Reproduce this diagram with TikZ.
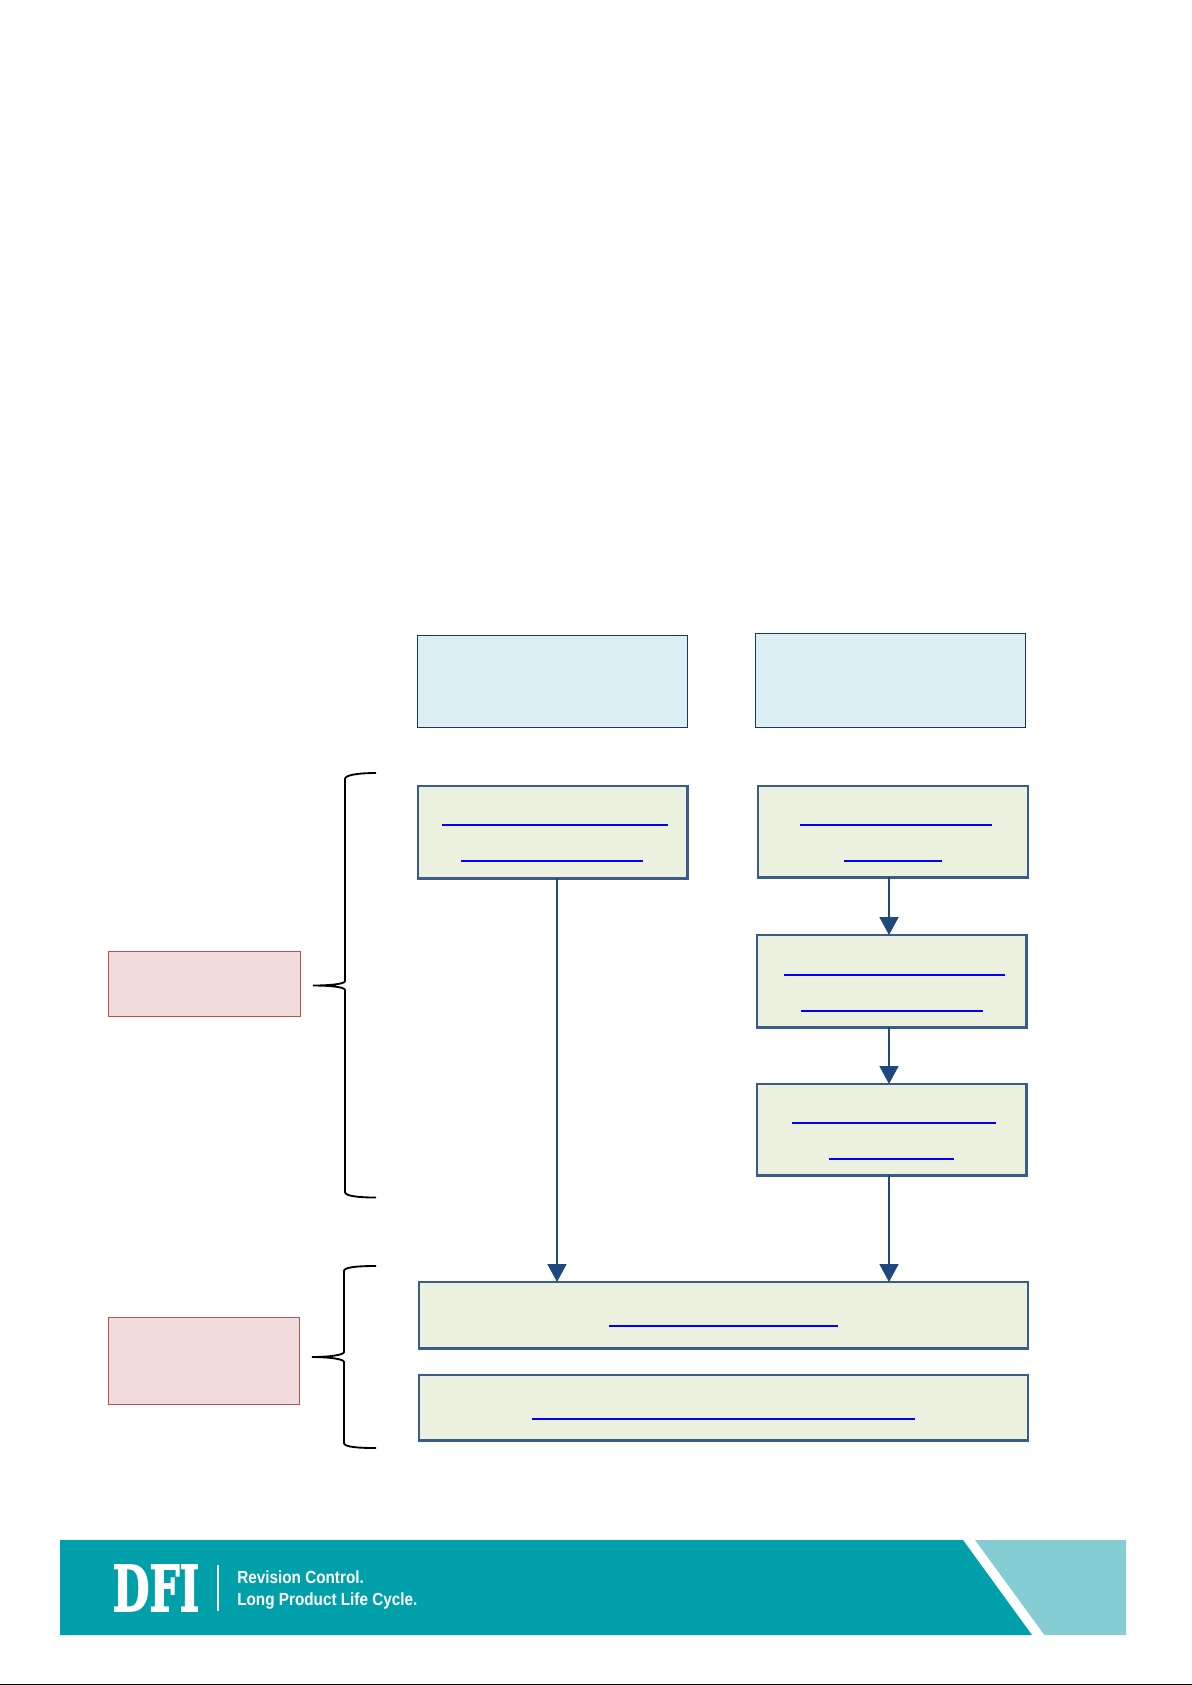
\documentclass[tikz,border=0pt]{standalone}
\usepackage{fontspec}
\usepackage{xcolor}
\usetikzlibrary{arrows.meta,positioning}
\setmainfont{Liberation Sans}
\newfontfamily\logofont[BoldFeatures={FakeBold=2.5}]{DejaVu Serif}
\definecolor{headfill}{HTML}{DBEEF4}
\definecolor{headline}{HTML}{17375E}
\definecolor{stepfill}{HTML}{EBF0DF}
\definecolor{stepline}{HTML}{385D8A}
\definecolor{notefill}{HTML}{F2DCDB}
\definecolor{noteline}{HTML}{C0504D}
\definecolor{flowline}{HTML}{1F497D}
\definecolor{barteal}{HTML}{00A0AA}
\definecolor{barlight}{HTML}{86CCD3}
\tikzset{
  box/.style={draw, inner sep=0pt, outer sep=0pt, anchor=north west},
  headbox/.style={box, draw=headline, fill=headfill, line width=0.5pt},
  stepbox/.style={box, draw=stepline, fill=stepfill, line width=1.25pt},
  notebox/.style={box, draw=noteline, fill=notefill, line width=0.55pt},
  flow/.style={draw=flowline, line width=1pt, -{Triangle[length=0.36cm,width=0.38cm]}},
  linkthin/.style={draw=blue, line width=0.65pt},
  linkthick/.style={draw=blue, line width=1.1pt},
  brace/.style={draw=black, line width=1.05pt},
}
\begin{document}
\begin{tikzpicture}[x=0.02cm, y=-0.02cm]
                \useasboundingbox (0,0) rectangle (1192,1685);
                % header boxes
                \node[headbox, minimum width=5.4cm, minimum height=1.84cm] (headL) at (417.5,635) {};
                \node[headbox, minimum width=5.4cm, minimum height=1.88cm] (headR) at (755.5,633) {};

                % left column
                \node[stepbox, minimum width=5.39cm, minimum height=1.85cm] (stepL) at (418,786) {};

                % right column
                \node[stepbox, minimum width=5.4cm, minimum height=1.83cm] (stepA) at (758,786) {};
                \node[stepbox, minimum width=5.39cm, minimum height=1.85cm] (stepB) at (757,935) {};
                \node[stepbox, minimum width=5.39cm, minimum height=1.83cm] (stepC) at (757,1084) {};

                % wide boxes
                \node[stepbox, minimum width=12.18cm, minimum height=1.33cm] (wideA) at (419,1282) {};
                \node[stepbox, minimum width=12.18cm, minimum height=1.31cm] (wideB) at (419,1375) {};

                % notes on the left
                \node[notebox, minimum width=3.86cm, minimum height=1.31cm] (noteA) at (108,951) {};
                \node[notebox, minimum width=3.83cm, minimum height=1.73cm] (noteB) at (108,1317.5) {};

                \coordinate (inL) at (557,1282);
                \coordinate (inR) at (889,1282);

                \draw[flow] (stepL.south -| inL) -- (inL);
                \draw[flow] (stepA.south -| inR) -- (stepB.north -| inR);
                \draw[flow] (stepB.south -| inR) -- (stepC.north -| inR);
                \draw[flow] (stepC.south -| inR) -- (inR);

                % underlines
                \draw[linkthin] (442,825) -- (668,825);
                \draw[linkthin] (461,861) -- (643,861);
                \draw[linkthick] (800,825) -- (992,825);
                \draw[linkthick] (844,861) -- (942,861);
                \draw[linkthick] (784,975) -- (1005,975);
                \draw[linkthick] (801,1011) -- (983,1011);
                \draw[linkthin] (792,1123) -- (996,1123);
                \draw[linkthin] (829,1159) -- (954,1159);
                \draw[linkthin] (609,1326) -- (838,1326);
                \draw[linkthick] (532,1419) -- (915,1419);

                % braces
                \draw[brace] (376,773) .. controls (358,773) and (345,775) .. (345,779)
                        -- (345,981) .. controls (345,984) and (330,985.5) .. (313,985.5)
                        .. controls (330,985.5) and (345,987) .. (345,990)
                        -- (345,1192) .. controls (345,1196) and (358,1197.5) .. (376,1197.5);
                \draw[brace] (376,1266) .. controls (358,1266) and (344,1267) .. (344,1271)
                        -- (344,1352) .. controls (344,1355) and (329,1357) .. (312,1357)
                        .. controls (329,1357) and (344,1359) .. (344,1362)
                        -- (344,1443) .. controls (344,1447) and (358,1448) .. (376,1448);

                % footer bar
                \fill[barteal] (60,1540) -- (963,1540) -- (1032,1635) -- (60,1635) -- cycle;
                \fill[barlight] (975,1540) -- (1126,1540) -- (1126,1635) -- (1044.5,1635) -- cycle;
                \node[text=white, inner sep=0pt, anchor=base west, font=\logofont\bfseries\fontsize{36}{36}\selectfont, xscale=0.67] (logo) at (112.5,1611) {DFI};
                \draw[white, line width=0.7pt] (218,1565) -- (218,1611);
                \node[text=white, inner sep=0pt, anchor=base west, font=\bfseries\fontsize{10}{12}\selectfont, xscale=0.87] (sloganA) at (237,1583) {Revision Control.};
                \node[text=white, inner sep=0pt, anchor=base west, font=\bfseries\fontsize{10}{12}\selectfont, xscale=0.87] (sloganB) at (237,1605) {Long Product Life Cycle.};

                \draw[black, line width=1pt] (0,1684.5) -- (1192,1684.5);
            \end{tikzpicture}
\end{document}
